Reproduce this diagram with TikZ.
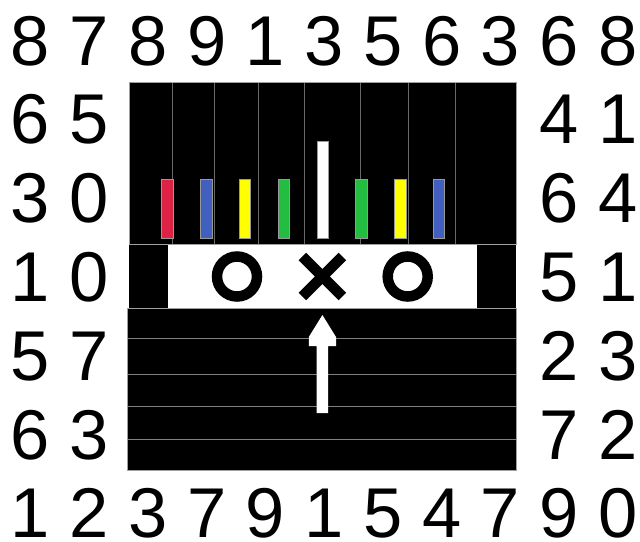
\documentclass[tikz,border=0pt]{standalone}
\usepackage{fontspec}
\setmainfont{Liberation Sans}
\usetikzlibrary{positioning}

\definecolor{barred}{RGB}{220,35,70}
\definecolor{barblue}{RGB}{65,95,190}
\definecolor{baryellow}{RGB}{255,255,0}
\definecolor{bargreen}{RGB}{35,190,65}
\definecolor{divgray}{RGB}{105,105,105}
\definecolor{framegray}{RGB}{160,160,160}

\begin{document}
\begin{tikzpicture}[
    x=1pt, y=-1pt,
    digits/.style={font=\fontsize{70.5}{72}\selectfont, inner sep=0pt, anchor=base west},
    rdigits/.style={digits, anchor=base east},
    divider/.style={draw=divgray, line width=1pt},
    frame/.style={draw=framegray, line width=1pt},
    bar/.style={draw=black!40, line width=0.4pt},
    xomark/.style={line width=10.5pt}
]
    \useasboundingbox (0,0) rectangle (640,541);

    % number frame
    \node[digits] (top) at (10.5,65) {8 7 8 9 1 3 5 6 3 6 8};
    \node[digits] (l1) at (10.5,143.8) {6 5};
    \node[digits] (l2) at (10.5,222.7) {3 0};
    \node[digits] (l3) at (10.5,301.5) {1 0};
    \node[digits] (l4) at (10.5,380.3) {5 7};
    \node[digits] (l5) at (10.5,459.2) {6 3};
    \node[rdigits] (r1) at (top.base east |- l1.base) {4 1};
    \node[rdigits] (r2) at (top.base east |- l2.base) {6 4};
    \node[rdigits] (r3) at (top.base east |- l3.base) {5 1};
    \node[rdigits] (r4) at (top.base east |- l4.base) {2 3};
    \node[rdigits] (r5) at (top.base east |- l5.base) {7 2};
    \node[digits] (bottom) at (10.5,537) {1 2 3 7 9 1 5 4 7 9 0};

    % upper panel with bars
    \fill (129,82) rectangle (516,244);
    \foreach \x in {172,214,258,304,360,408,455}
        \draw[divider] (\x,82) -- (\x,244);
    \foreach \c [count=\i from -4] in {barred,barblue,baryellow,bargreen,white,bargreen,baryellow,barblue}
        \filldraw[bar, fill=\c] ({322.4+38.8*\i-5.7},179.5) rectangle ({322.4+38.8*\i+5.7},238.5);
    \filldraw[bar, fill=white] (316.7,140.7) rectangle (328.1,238.5);
    \draw[frame] (129,82) rectangle (516,244);

    % middle band
    \fill (129,244) rectangle (516,308);
    \fill[white] (168,245) rectangle (477,308);
    \draw[frame] (129,244) -- (516,244);
    \draw[xomark] (237,276.5) circle[radius=20pt];
    \draw[xomark] (407.7,276.5) circle[radius=20pt];
    \draw[xomark] (302.4,256.5) -- (342.4,296.5);
    \draw[xomark] (302.4,296.5) -- (342.4,256.5);

    % lower panel
    \fill (127.5,308) rectangle (516,470);
    \foreach \y in {338,374,406,439}
        \draw[divider, draw=gray] (127.5,\y) -- (516,\y);
    \draw[frame] (127.5,308) rectangle (516,470);

    % arrow
    \fill[white] (322.4,315) -- (336,337) -- (336,346) -- (328.2,346) -- (328.2,413)
        -- (316.6,413) -- (316.6,346) -- (308.8,346) -- (308.8,337) -- cycle;
\end{tikzpicture}
\end{document}
